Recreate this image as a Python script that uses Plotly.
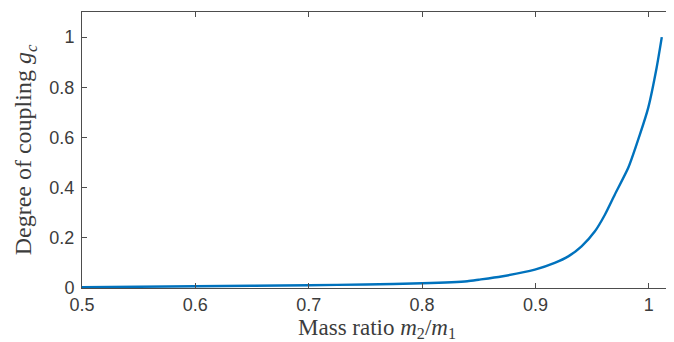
import plotly.graph_objects as go

# Data
mass_ratio = [0.5, 0.55, 0.6, 0.65, 0.7, 0.75, 0.8, 0.84, 0.85, 0.87, 0.8995,
              0.917, 0.929, 0.9407, 0.9525, 0.9613, 0.970, 0.982, 0.9922,
              0.9995, 1.0069, 1.0115]
coupling = [0.003, 0.005, 0.007, 0.009, 0.011, 0.014, 0.019, 0.027, 0.033,
            0.046, 0.073, 0.100, 0.126, 0.166, 0.226, 0.292, 0.372, 0.480,
            0.612, 0.718, 0.877, 1.0]

x_ticks = [0.5, 0.6, 0.7, 0.8, 0.9, 1.0]
x_ticklabels = ["0.5", "0.6", "0.7", "0.8", "0.9", "1"]
y_ticks = [0, 0.2, 0.4, 0.6, 0.8, 1.0]
y_ticklabels = ["0", "0.2", "0.4", "0.6", "0.8", "1"]

fig = go.Figure()
fig.add_trace(go.Scatter(
    x=mass_ratio, y=coupling, mode="lines",
    line=dict(color="#0072BD", width=2.4, shape="spline", smoothing=0.6),
    showlegend=False, hoverinfo="skip",
))

axis_common = dict(
    showgrid=False, zeroline=False, showline=True, linecolor="#4d4d4d",
    linewidth=1, mirror="allticks", ticks="inside", ticklen=5,
    tickcolor="#4d4d4d", tickwidth=1,
    tickfont=dict(family="Liberation Sans, Arial, sans-serif", size=18,
                  color="#3c3c3c"),
)

fig.update_layout(
    width=674, height=342,
    margin=dict(l=74, r=10, t=4, b=62),
    paper_bgcolor="white", plot_bgcolor="white",
    xaxis=dict(
        range=[0.5, 1.0205], tickvals=x_ticks, ticktext=x_ticklabels,
        title=dict(text="Mass ratio <i>m</i><sub>2</sub>/<i>m</i><sub>1</sub>",
                   font=dict(family="Liberation Serif, serif", size=23,
                             color="#3c3c3c"), standoff=0),
        **axis_common,
    ),
    yaxis=dict(
        range=[0, 1.1], tickvals=y_ticks, ticktext=y_ticklabels,
        ticklabelstandoff=3,
        title=dict(text="Degree of coupling <i>g</i><sub><i>c</i></sub>",
                   font=dict(family="Liberation Serif, serif", size=24,
                             color="#3c3c3c"), standoff=10),
        **axis_common,
    ),
)

fig.write_html("out.html")
